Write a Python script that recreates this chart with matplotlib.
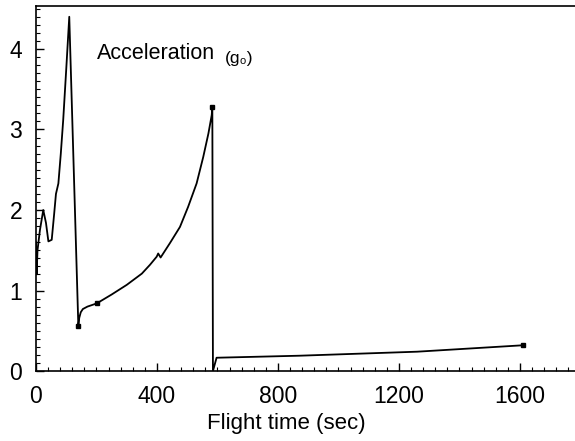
import matplotlib.pyplot as plt
from matplotlib.ticker import MultipleLocator

plt.rcParams['font.family'] = ['Liberation Sans', 'DejaVu Sans']

# flight time (sec) and acceleration (g0)
t = [0, 2, 5, 13, 24, 33, 41, 52, 60, 66, 74, 82, 90, 100, 110, 140,
     143, 148, 155, 170, 201, 250, 300, 350, 377, 399, 404, 412, 443, 476,
     503, 531, 553, 570, 581, 583,
     585, 597, 870, 1260, 1611]
acc = [1.6, 1.2, 1.5, 1.75, 2.0, 1.84, 1.61, 1.63, 1.95, 2.2, 2.33, 2.7, 3.12, 3.75, 4.40, 0.56,
       0.66, 0.73, 0.77, 0.80, 0.84, 0.95, 1.07, 1.21, 1.32, 1.42, 1.46, 1.41, 1.59, 1.79,
       2.04, 2.33, 2.66, 2.95, 3.18, 3.28,
       0.0, 0.165, 0.19, 0.24, 0.32]

# stage event markers
mark_t = [140, 201, 583, 1611]
mark_a = [0.56, 0.84, 3.28, 0.32]

fig = plt.figure(figsize=(5.75, 4.41), dpi=100)
ax = fig.add_axes([0.0626, 0.1587, 0.9374, 0.8277])

ax.plot(t, acc, color='black', lw=1.3)
ax.plot(mark_t, mark_a, 's', color='black', ms=3.5, ls='none')

ax.set_xlim(0, 1782)
ax.set_ylim(0, 4.534)
ax.set_xticks([0, 400, 800, 1200, 1600])
ax.set_yticks([0, 1, 2, 3, 4])
ax.xaxis.set_minor_locator(MultipleLocator(40))
ax.yaxis.set_minor_locator(MultipleLocator(0.1))
ax.tick_params(which='both', direction='in', labelsize=16.5)
ax.tick_params(which='major', length=6, width=1)
ax.tick_params(which='minor', length=3, width=0.8)
ax.tick_params(axis='x', pad=10)
ax.tick_params(axis='y', pad=10)
ax.spines['right'].set_visible(False)
for s in ['left', 'bottom', 'top']:
    ax.spines[s].set_linewidth(1.2)

ax.set_xlabel('Flight time (sec)', fontsize=16)
ax.xaxis.set_label_coords(0.465, -0.115)

ax.text(202, 3.94, 'Acceleration', fontsize=15.5, va='center', ha='left')
ax.text(625, 3.88, '(g\u2080)', fontsize=12.5, va='center', ha='left')

fig.savefig('out.png', dpi=100)
